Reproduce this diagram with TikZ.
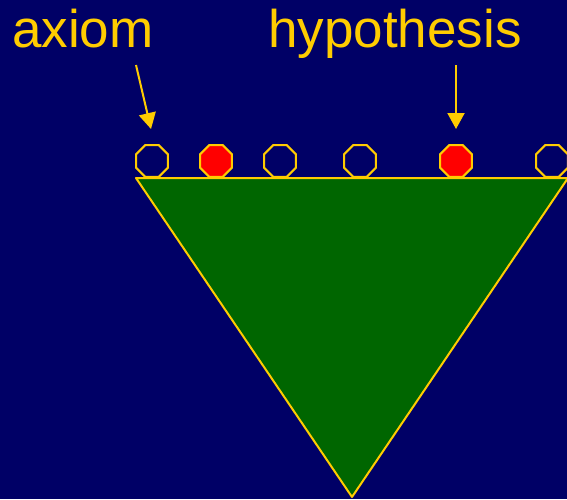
\documentclass[tikz,border=0pt]{standalone}
\usepackage{fontspec}
\setmainfont{Liberation Sans}
\usetikzlibrary{arrows.meta, shapes.geometric}

\definecolor{navy}{HTML}{000066}
\definecolor{gold}{HTML}{FFCC00}
\definecolor{leaf}{HTML}{006600}

\begin{document}
\begin{tikzpicture}[
    x=1pt, y=-1pt,
    >={Triangle[width=17pt,length=16pt]},
    oct/.style={draw=gold, line width=2pt, shape=regular polygon,
                regular polygon sides=8, minimum size=34.6pt, inner sep=0pt},
    lbl/.style={text=gold, font=\fontsize{53}{60}\selectfont, inner sep=0pt,
                anchor=base west},
    ptr/.style={->, gold, line width=2pt}
  ]
  % background
  \fill[navy] (0,0) rectangle (567,499);
  \useasboundingbox (0,0) rectangle (567,499);

  % the tree
  \coordinate (tl) at (136,178);
  \coordinate (tr) at (568,178);
  \coordinate (root) at (352,497);
  \filldraw[fill=leaf, draw=gold, line width=2pt, line join=round]
    (tl) -- (tr) -- (root) -- cycle;

  % leaves
  \foreach \i/\x/\c in {1/152/none, 2/216/red, 3/280/none,
                        4/360/none, 5/456/red, 6/552/none} {
    \node[oct, fill=\c] (o\i) at (\x,161) {};
  }

  % labels
  \node[lbl] (axiom) at (12,47) {axiom};
  \node[lbl] (hyp) at (268,47) {hypothesis};
  \coordinate (axtail) at (136,65);
  \coordinate (axhead) at (151,129);
  \coordinate (hyptail) at (456,65);
  \coordinate (hyphead) at (456,129);
  \draw[ptr] (axtail) -- (axhead);
  \draw[ptr] (hyptail) -- (hyphead);
\end{tikzpicture}
\end{document}
